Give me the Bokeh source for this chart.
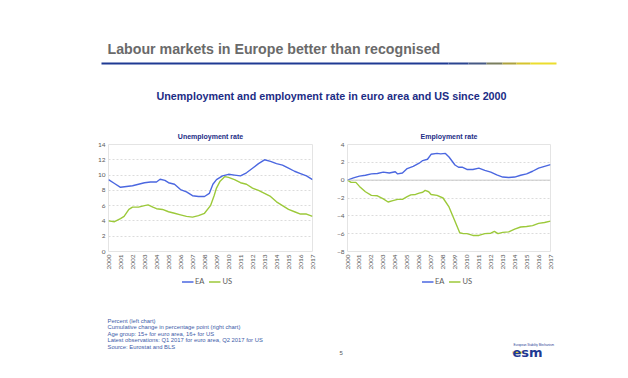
from bokeh.plotting import figure
from bokeh.models import Range1d, Legend, LegendItem, Span, FixedTicker, Spacer
from bokeh.layouts import column, row
from bokeh.core.properties import value
from bokeh.embed import file_html
from bokeh.resources import INLINE
import math

# ---------------- data ----------------
years = list(range(2000, 2018))
year_labels = [str(y) for y in years]

unemp_ea_x = [2000.0, 2000.5, 2001.0, 2001.5, 2002.0, 2002.5, 2003.0, 2003.5, 2004.0, 2004.3, 2004.7,
              2005.0, 2005.5, 2006.0, 2006.5, 2007.0, 2007.5, 2008.0, 2008.4, 2008.7, 2009.0, 2009.5,
              2010.0, 2010.5, 2011.0, 2011.5, 2012.0, 2012.5, 2013.0, 2013.5, 2014.0, 2014.5, 2015.0,
              2015.5, 2016.0, 2016.5, 2017.0]
unemp_ea = [9.4, 8.9, 8.4, 8.5, 8.6, 8.8, 9.0, 9.1, 9.1, 9.45, 9.3,
            9.0, 8.8, 8.1, 7.8, 7.3, 7.2, 7.2, 7.6, 8.8, 9.4, 9.9,
            10.1, 10.0, 9.9, 10.3, 10.9, 11.5, 12.0, 11.8, 11.5, 11.3, 10.9,
            10.5, 10.2, 9.9, 9.4]

unemp_us_x = [2000.0, 2000.5, 2001.0, 2001.3, 2001.7, 2002.0, 2002.5, 2003.0, 2003.3, 2003.7, 2004.0,
              2004.5, 2005.0, 2005.5, 2006.0, 2006.5, 2007.0, 2007.5, 2008.0, 2008.5, 2008.8, 2009.0,
              2009.3, 2009.7, 2010.0, 2010.5, 2011.0, 2011.5, 2012.0, 2012.5, 2013.0, 2013.5, 2014.0,
              2014.5, 2015.0, 2015.5, 2016.0, 2016.5, 2017.0]
unemp_us = [4.0, 3.9, 4.3, 4.6, 5.5, 5.8, 5.8, 6.0, 6.1, 5.8, 5.6,
            5.5, 5.2, 5.0, 4.8, 4.6, 4.5, 4.7, 5.0, 6.0, 7.3, 8.3,
            9.2, 9.8, 9.7, 9.4, 9.0, 8.8, 8.3, 8.0, 7.6, 7.2, 6.5,
            6.0, 5.5, 5.2, 4.9, 4.9, 4.6]

emp_ea_x = [2000.0, 2000.5, 2001.0, 2001.5, 2002.0, 2002.5, 2003.0, 2003.5, 2004.0, 2004.2, 2004.6,
            2005.0, 2005.5, 2006.0, 2006.3, 2006.7, 2007.0, 2007.5, 2007.8, 2008.2, 2008.5, 2009.0,
            2009.3, 2009.6, 2010.0, 2010.5, 2011.0, 2011.5, 2012.0, 2012.5, 2013.0, 2013.5, 2014.0,
            2014.5, 2015.0, 2015.5, 2016.0, 2016.5, 2017.0]
emp_ea = [0.0, 0.25, 0.45, 0.55, 0.7, 0.75, 0.9, 0.8, 0.95, 0.7, 0.8,
          1.3, 1.55, 1.9, 2.2, 2.35, 2.9, 3.0, 2.95, 3.0, 2.6, 1.7,
          1.45, 1.45, 1.2, 1.2, 1.35, 1.1, 0.9, 0.6, 0.35, 0.3, 0.35,
          0.55, 0.7, 1.0, 1.35, 1.55, 1.75]

emp_us_x = [2000.0, 2000.3, 2000.7, 2001.0, 2001.5, 2002.0, 2002.5, 2003.0, 2003.4, 2003.8, 2004.2,
            2004.6, 2005.0, 2005.3, 2005.7, 2006.0, 2006.3, 2006.5, 2006.8, 2007.0, 2007.5, 2008.0,
            2008.5, 2009.0, 2009.4, 2009.7, 2010.0, 2010.5, 2011.0, 2011.5, 2012.0, 2012.3, 2012.6,
            2013.0, 2013.5, 2014.0, 2014.5, 2015.0, 2015.5, 2016.0, 2016.5, 2017.0]
emp_us = [0.0, -0.25, -0.25, -0.7, -1.3, -1.7, -1.75, -2.1, -2.45, -2.3, -2.15,
          -2.15, -1.85, -1.65, -1.6, -1.45, -1.35, -1.15, -1.3, -1.6, -1.7, -2.0,
          -3.0, -4.6, -5.9, -6.0, -6.0, -6.2, -6.2, -6.0, -5.95, -5.75, -6.0,
          -5.85, -5.8, -5.5, -5.25, -5.2, -5.1, -4.85, -4.75, -4.6]

unemp_ticks = [0, 2, 4, 6, 8, 10, 12, 14]
emp_ticks = [-8, -6, -4, -2, 0, 2, 4]

series_names = ["EA", "US"]

# ---------------- styles ----------------
EA_COLOR = "#4B67E0"
US_COLOR = "#9CC93A"
NAVY = "#1C2C85"
GRAY = "#595959"
FONT = "Liberation Sans"
TICK_FONT = "Lato"


def blank(w, h):
    p = figure(width=w, height=h, x_range=Range1d(0, w), y_range=Range1d(h, 0),
               toolbar_location=None, output_backend="svg", min_border=0)
    p.axis.visible = False
    p.grid.visible = False
    p.outline_line_color = None
    return p


# ---------------- header ----------------
header = blank(612, 118)
header.text(x=[99], y=[40], text=["Labour markets in Europe better than recognised"],
            text_font=value(FONT), text_font_size="14.2px", text_font_style="bold",
            text_color="#6a6a6a", text_baseline="middle", text_align="left")
# gradient rule under the title (blue -> yellow)
gx0 = [93, 440, 460, 478, 494, 508, 522]
gx1 = [440, 460, 478, 494, 508, 522, 548]
gcol = ["#1F3A93", "#2B4590", "#465984", "#7A7E5E", "#ADA23E", "#D6C42E", "#ECDD2E"]
header.segment(x0=gx0, y0=[55] * 7, x1=gx1, y1=[55] * 7, line_color=gcol, line_width=2.2)
header.text(x=[323], y=[87], text=["Unemployment and employment rate in euro area and US since 2000"],
            text_font=value(FONT), text_font_size="10.75px", text_font_style="bold",
            text_color=NAVY, text_baseline="middle", text_align="center")


# ---------------- charts ----------------
def chart(title, w, ymin, ymax, ticks, xs_ea, ys_ea, xs_us, ys_us, ml, mr, mt, mb, standoff, zero=False):
    p = figure(width=w, height=146, x_range=Range1d(2000, 2017), y_range=Range1d(ymin, ymax),
               toolbar_location=None, output_backend="svg",
               min_border_left=ml, min_border_right=mr, min_border_top=mt, min_border_bottom=mb)
    p.title.text = title
    p.title.align = "center"
    p.title.text_font = FONT
    p.title.text_font_size = "7px"
    p.title.text_color = NAVY
    p.title.text_font_style = "bold"
    p.title.standoff = standoff
    p.outline_line_color = "#e4e4e4"
    p.xgrid.visible = False
    p.ygrid.grid_line_color = "#dcdcdc"
    p.ygrid.grid_line_dash = "2 2"
    p.yaxis.ticker = FixedTicker(ticks=ticks)
    p.xaxis.ticker = FixedTicker(ticks=years)
    p.xaxis.major_label_overrides = {y: l for y, l in zip(years, year_labels)}
    p.xaxis.major_label_orientation = math.pi / 2
    for ax in (p.xaxis, p.yaxis):
        ax.axis_line_color = None
        ax.major_tick_line_color = None
        ax.minor_tick_line_color = None
        ax.major_tick_out = 0
        ax.major_tick_in = 0
        ax.minor_tick_out = 0
        ax.minor_tick_in = 0
        ax.major_label_text_font = TICK_FONT
        ax.major_label_text_font_size = "6.5px"
        ax.major_label_text_color = GRAY
        ax.major_label_standoff = 3
    if zero:
        p.add_layout(Span(location=0, dimension="width", line_color="#c8c8c8", line_width=1))
    p.line(xs_ea, ys_ea, line_color=EA_COLOR, line_width=1.4)
    p.line(xs_us, ys_us, line_color=US_COLOR, line_width=1.4)
    return p


def legend_fig(w, xs_ea, ys_ea, xs_us, ys_us):
    # key strip under a chart; the series are plotted out of view so only the key shows
    lf = figure(width=w, height=18, x_range=Range1d(0, 1), y_range=Range1d(0, 1),
                toolbar_location=None, output_backend="svg", min_border=0)
    lf.axis.visible = False
    lf.grid.visible = False
    lf.outline_line_color = None
    r1 = lf.line(xs_ea, ys_ea, line_color=EA_COLOR, line_width=1.4)
    r2 = lf.line(xs_us, ys_us, line_color=US_COLOR, line_width=1.4)
    leg = Legend(items=[LegendItem(label=series_names[0], renderers=[r1]),
                        LegendItem(label=series_names[1], renderers=[r2])],
                 orientation="horizontal", location="center")
    leg.background_fill_alpha = 0
    leg.border_line_color = None
    leg.label_text_font = TICK_FONT
    leg.label_text_font_size = "7.5px"
    leg.label_text_color = GRAY
    leg.glyph_width = 12
    leg.glyph_height = 8
    leg.label_width = 0
    leg.label_standoff = 2
    leg.spacing = 4
    leg.padding = 0
    leg.margin = 0
    leg.label_height = 8
    lf.add_layout(leg, "center")
    return lf


left = chart("Unemployment rate", 235, 0, 14, unemp_ticks,
             unemp_ea_x, unemp_ea, unemp_us_x, unemp_us, 23, 8, 18, 19, 9)
right = chart("Employment rate", 240, -8, 4, emp_ticks,
              emp_ea_x, emp_ea, emp_us_x, emp_us, 27, 10, 16, 19, 9, zero=True)
left_leg = legend_fig(227, unemp_ea_x, unemp_ea, unemp_us_x, unemp_us)
right_leg = legend_fig(227, emp_ea_x, emp_ea, emp_us_x, emp_us)

# ---------------- footer ----------------
footer = blank(612, 80)
notes = ["Percent (left chart)",
         "Cumulative  change in percentage point (right chart)",
         "Age group:  15+ for euro area,  16+ for US",
         "Latest observations:  Q1 2017 for euro area, Q2 2017 for US",
         "Source: Eurostat and BLS"]
footer.text(x=[99] * 5, y=[30, 36.5, 43, 49.5, 56], text=notes,
            text_font=value(FONT), text_font_size="5.85px", text_color="#3D5AA8",
            text_baseline="middle", text_align="left")
footer.text(x=[331], y=[62], text=["5"], text_font=value(FONT), text_font_size="6px",
            text_color=GRAY, text_baseline="middle", text_align="left")
# logo
footer.text(x=[505], y=[54], text=["European Stability Mechanism"], text_font=value(FONT),
            text_font_size="3px", text_color="#1F3A93", text_baseline="middle", text_align="left")
footer.segment(x0=[504], y0=[62], x1=[515], y1=[62], line_color="#E8C92A", line_width=2)
footer.text(x=[504], y=[62], text=["esm"], text_font=value("DejaVu Sans"), text_font_size="13px",
            text_font_style="bold", text_color="#1F3A93", text_baseline="middle", text_align="left")

charts = row(Spacer(width=77, height=164),
             column(left, row(Spacer(width=8, height=18), left_leg)),
             column(right, row(Spacer(width=13, height=18), right_leg)),
             Spacer(width=60, height=164))
body = column(header, charts, footer)
root = column(Spacer(width=620, height=8),
              row(Spacer(width=8, height=362), body))

open("out.html", "w").write(file_html(root, INLINE))
